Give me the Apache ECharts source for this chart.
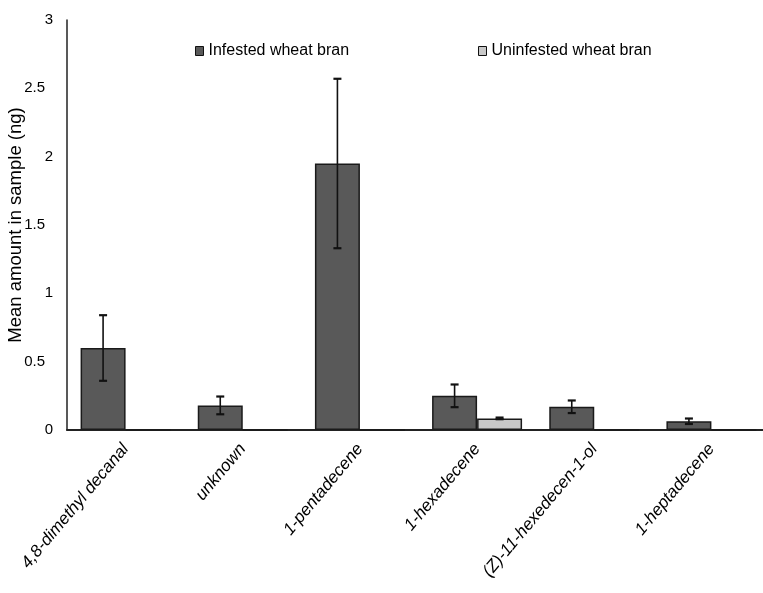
<!DOCTYPE html>
<html>
<head>
<meta charset="utf-8">
<script src="https://cdn.jsdelivr.net/npm/echarts@6/dist/echarts.min.js"></script>
<style>html,body{margin:0;padding:0;background:#fff;}#c{width:763px;height:593px;}</style>
</head>
<body>
<div id="c"></div>
<script>
const categories = ['4,8-dimethyl decanal', 'unknown', '1-pentadecene', '1-hexadecene', '(Z)-11-hexedecen-1-ol', '1-heptadecene'];
const infestedMean = [0.60, 0.18, 1.95, 0.25, 0.17, 0.064];
const infestedErr = [0.24, 0.065, 0.62, 0.083, 0.046, 0.02];
const uninfestedMean = [0, 0, 0, 0.085, 0, 0];
const uninfestedErr = [0, 0, 0, 0.006, 0, 0];
const seriesNames = ['Infested wheat bran', 'Uninfested wheat bran'];
const yMin = 0, yMax = 3, yStep = 0.5;

const GAP = 0.232;
function errorSeries(means, errs, side, name) {
  const data = means.map((m, i) => [i, m - errs[i], m + errs[i], m]);
  return {
    type: 'custom',
    name: name + ' err',
    z: 10,
    silent: true,
    data: data,
    encode: { x: 0, y: [1, 2] },
    renderItem: function (params, api) {
      const i = api.value(0);
      const mean = api.value(3);
      if (!mean) return null;
      const band = api.size([1, 0])[0];
      const off = side * band * (1 - GAP) / 4;
      const lo = api.coord([i, api.value(1)]);
      const hi = api.coord([i, api.value(2)]);
      const x = lo[0] + off;
      const cw = 4;
      const style = { stroke: '#111', lineWidth: 1.6 };
      return {
        type: 'group',
        children: [
          { type: 'line', shape: { x1: x, y1: lo[1], x2: x, y2: hi[1] }, style: style },
          { type: 'line', shape: { x1: x - cw, y1: lo[1], x2: x + cw, y2: lo[1] }, style: { stroke: '#111', lineWidth: 2.2 } },
          { type: 'line', shape: { x1: x - cw, y1: hi[1], x2: x + cw, y2: hi[1] }, style: { stroke: '#111', lineWidth: 2.2 } }
        ]
      };
    }
  };
}

const chart = echarts.init(document.getElementById('c'), null, { renderer: 'canvas' });
const font = 'Liberation Sans, Arial, sans-serif';
chart.setOption({
  animation: false,
  backgroundColor: '#fff',
  textStyle: { fontFamily: font },
  legend: [
    { data: [seriesNames[0]], left: 195, top: 43, padding: 0, itemWidth: 8, itemHeight: 9, icon: 'rect',
      itemStyle: { borderColor: '#111', borderWidth: 1 },
      textStyle: { fontSize: 16, color: '#000', fontFamily: font } },
    { data: [seriesNames[1]], left: 478, top: 43, padding: 0, itemWidth: 8, itemHeight: 9, icon: 'rect',
      itemStyle: { borderColor: '#111', borderWidth: 1 },
      textStyle: { fontSize: 16, color: '#000', fontFamily: font } }
  ],
  grid: { left: 67, right: -7, top: 20, bottom: 163, containLabel: false, outerBoundsMode: 'none' },
  xAxis: {
    type: 'category',
    data: categories,
    axisLine: { lineStyle: { color: '#222', width: 2 } },
    axisTick: { show: false },
    axisLabel: { rotate: 50, interval: 0, fontStyle: 'italic', fontSize: 17, color: '#000', margin: 16, fontFamily: font }
  },
  yAxis: {
    type: 'value',
    min: yMin, max: yMax, interval: yStep,
    name: 'Mean amount in sample (ng)',
    nameLocation: 'middle',
    nameGap: 42,
    nameMoveOverlap: false,
    nameTextStyle: { fontSize: 18.5, color: '#000', fontFamily: font },
    axisLine: { show: true, lineStyle: { color: '#222', width: 1.5 } },
    axisTick: { show: false },
    splitLine: { show: false },
    axisLabel: {
      fontSize: 15, color: '#000', margin: 14, fontFamily: font,
      formatter: function (v) { return (v % 1 === 0) ? '{a|' + v + '}' : '{b|' + v + '}'; },
      rich: { a: { fontSize: 15, fontFamily: font, color: '#000' }, b: { fontSize: 15, fontFamily: font, color: '#000', padding: [0, 8, 0, 0] } }
    }
  },
  series: [
    { type: 'bar', name: seriesNames[0], data: infestedMean, barGap: '0%', barCategoryGap: (GAP * 100) + '%',
      itemStyle: { color: '#595959', borderColor: '#1a1a1a', borderWidth: 1.5 } },
    { type: 'bar', name: seriesNames[1], data: uninfestedMean,
      itemStyle: { color: '#c8c8c8', borderColor: '#1a1a1a', borderWidth: 1.5 } },
    errorSeries(infestedMean, infestedErr, -1, seriesNames[0]),
    errorSeries(uninfestedMean, uninfestedErr, 1, seriesNames[1])
  ]
});
</script>
</body>
</html>
